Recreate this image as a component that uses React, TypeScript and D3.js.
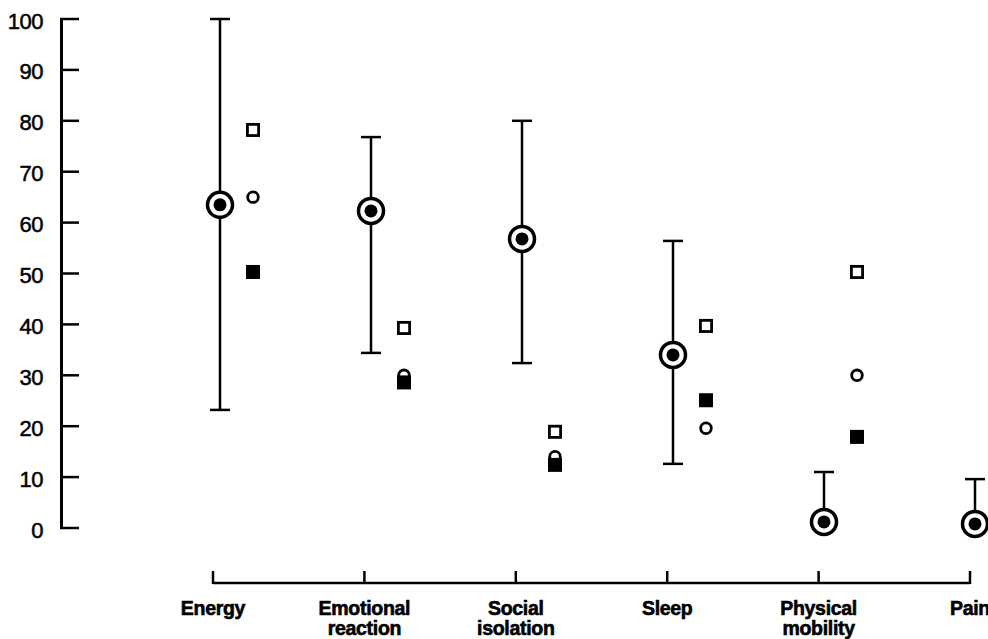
import React from "react";
import * as d3 from "d3";

const categories = [["Energy"], ["Emotional", "reaction"], ["Social", "isolation"], ["Sleep"], ["Physical", "mobility"], ["Pain"]];
const meanValues = [63.5, 62.3, 56.8, 34.0, 1.2, 0.8];
const upperValues = [100, 76.8, 80, 56.4, 11, 9.6];
const lowerValues: (number | null)[] = [23.2, 34.4, 32.4, 12.6, null, null];
const openSquareValues: (number | null)[] = [78.2, 39.3, 18.9, 39.7, 50.3, null];
const openCircleValues: (number | null)[] = [65, 30, 14, 19.6, 30, null];
const filledSquareValues: (number | null)[] = [50.3, 28.6, 12.4, 25.1, 17.9, null];
const yTicks = [0, 10, 20, 30, 40, 50, 60, 70, 80, 90, 100];

export default function App() {
  const W = 988, H = 639;
  const y = d3.scaleLinear().domain([0, 100]).range([528, 19]);
  const idx = categories.map((_, i) => i);
  const xTick = d3.scalePoint<number>().domain(idx).range([213, 970]);
  const xBar = d3.scalePoint<number>().domain(idx).range([220, 975]);
  const markOff = 33;
  const font = "'Liberation Sans', Arial, Helvetica, sans-serif";
  const sq = 14;
  return (
    <svg width={W} height={H} style={{ position: "absolute", left: 0, top: 0, background: "#fff" }}>
      {/* y axis */}
      <line x1={61.5} x2={61.5} y1={y(100)} y2={y(0)} stroke="#000" strokeWidth={3} />
      {yTicks.map((t) => (
        <g key={t}>
          <line x1={60} x2={79} y1={y(t)} y2={y(t)} stroke="#000" strokeWidth={2.5} />
          <text x={43} y={y(t) + 2} textAnchor="end" dominantBaseline="central" fontFamily={font} fontSize={22} fill="#000" stroke="#000" strokeWidth={0.5} letterSpacing={-0.5}>{t}</text>
        </g>
      ))}
      {/* x axis */}
      <line x1={xTick(0)!} x2={xTick(5)!} y1={583} y2={583} stroke="#000" strokeWidth={2.5} />
      {idx.map((i) => (
        <g key={i}>
          <line x1={xTick(i)!} x2={xTick(i)!} y1={571} y2={584} stroke="#000" strokeWidth={2.5} />
          {categories[i].map((s, j) => (
            <text key={j} x={xTick(i)!} y={615 + j * 20} textAnchor="middle" fontFamily={font} fontWeight="bold" fontSize={19.5} fill="#000" stroke="#000" strokeWidth={0.6} letterSpacing={-0.3}>{s}</text>
          ))}
        </g>
      ))}
      {/* error bars and means */}
      {idx.map((i) => {
        const bx = xBar(i)!;
        const lo = lowerValues[i];
        const mx = bx + markOff;
        return (
          <g key={i}>
            <line x1={bx} x2={bx} y1={y(upperValues[i])} y2={y(lo ?? meanValues[i])} stroke="#000" strokeWidth={2.5} />
            <line x1={bx - 10} x2={bx + 10} y1={y(upperValues[i])} y2={y(upperValues[i])} stroke="#000" strokeWidth={2.5} />
            {lo !== null && <line x1={bx - 10} x2={bx + 10} y1={y(lo)} y2={y(lo)} stroke="#000" strokeWidth={2.5} />}
            <circle cx={bx} cy={y(meanValues[i])} r={12.5} fill="#fff" stroke="#000" strokeWidth={3.5} />
            <circle cx={bx} cy={y(meanValues[i])} r={6.5} fill="#000" />
            {openSquareValues[i] !== null && (
              <rect x={mx - sq / 2 + 1.4} y={y(openSquareValues[i]!) - sq / 2 + 1.4} width={sq - 2.8} height={sq - 2.8} fill="#fff" stroke="#000" strokeWidth={2.8} />
            )}
            {openCircleValues[i] !== null && (
              <circle cx={mx} cy={y(openCircleValues[i]!)} r={5.3} fill="#fff" stroke="#000" strokeWidth={2.8} />
            )}
            {filledSquareValues[i] !== null && (
              <rect x={mx - sq / 2} y={y(filledSquareValues[i]!) - sq / 2} width={sq} height={sq} fill="#000" />
            )}
          </g>
        );
      })}
    </svg>
  );
}
